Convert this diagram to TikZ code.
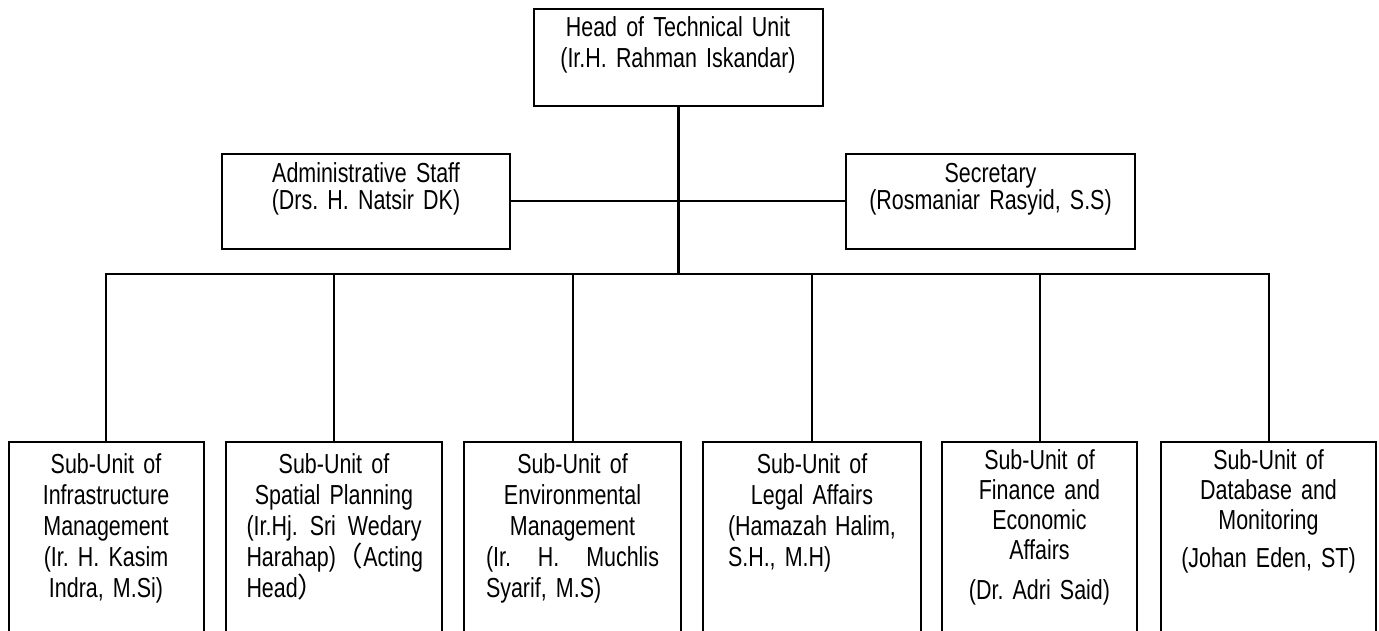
\documentclass[tikz,border=0pt]{standalone}
\usepackage{fontspec}
\setmainfont{Liberation Sans}[FakeStretch=0.78]
\newfontfamily\cjk{Noto Sans CJK SC}
\newcommand{\jline}[2]{\leavevmode\hbox to #1{#2}}
\begin{document}
\begin{tikzpicture}[x=1pt,y=-1pt,
  box/.style={draw, line width=2pt, rectangle, anchor=north, inner xsep=0pt, inner ysep=0pt, outer sep=0pt, align=center},
  topbox/.style={box, minimum width=#1, text width=#1-30pt, font=\fontsize{27.5}{31}\selectfont\frenchspacing},
  midbox/.style={box, minimum width=#1, text width=#1-30pt, font=\fontsize{27.5}{27}\selectfont\frenchspacing, text height=29pt, text depth=66pt},
  subbox/.style={box, minimum width=#1, font=\fontsize{27.5}{31}\selectfont\frenchspacing, text height=31pt, text depth=260pt},
  subboxb/.style={box, minimum width=#1, font=\fontsize{27.5}{30}\selectfont\frenchspacing, text height=27pt, text depth=260pt},
  conn/.style={line width=2pt},
  trunk/.style={line width=3pt}]
\useasboundingbox (0,0) rectangle (1379,631);

\node[topbox=289pt, text height=28pt, text depth=69pt] (top) at (678,9)
  {Head of Technical Unit\\(Ir.H. Rahman Iskandar)};
\node[midbox=288pt] (admin) at (366,154) {Administrative Staff\\(Drs. H. Natsir DK)};
\node[midbox=289pt] (sec) at (990.5,154) {Secretary\\(Rosmaniar Rasyid, S.S)};

\node[subbox=195pt, text width=175pt] (s1) at (106,442)
  {Sub-Unit of\\Infrastructure\\Management\\(Ir. H. Kasim\\Indra, M.Si)};
\node[subbox=216pt, text width=175pt] (s2) at (334,442)
  {Sub-Unit of\\Spatial Planning\\\jline{175pt}{(Ir.Hj.\hfill Sri\hfill Wedary}\\\jline{175pt}{Harahap)\hfill{\cjk （}Acting}\\\jline{175pt}{Head{\cjk ）}\hfill}};
\node[subbox=217pt, text width=173pt] (s3) at (572.5,442)
  {Sub-Unit of\\Environmental\\Management\\\jline{173pt}{(Ir.\hfill H.\hfill Muchlis}\\\jline{173pt}{Syarif, M.S)\hfill}};
\node[subbox=218pt, text width=168pt] (s4) at (812,442)
  {Sub-Unit of\\Legal Affairs\\\jline{168pt}{(Hamazah\hfill Halim,}\\\jline{168pt}{S.H., M.H)\hfill}};
\node[subboxb=195pt, text width=175pt] (s5) at (1039.5,442)
  {Sub-Unit of\\Finance and\\Economic\\Affairs\\[10pt](Dr. Adri Said)};
\node[subboxb=215pt, text width=195pt] (s6) at (1268.5,442)
  {Sub-Unit of\\Database and\\Monitoring\\[8pt](Johan Eden, ST)};

\coordinate (bus) at (678,274);
\draw[trunk] (top.south) -- (bus);
\draw[conn] (admin.east) -- (sec.west);
\foreach \s in {s1,s2,s3,s4,s5,s6} \draw[conn] (bus) -| (\s.north);
\end{tikzpicture}
\end{document}
